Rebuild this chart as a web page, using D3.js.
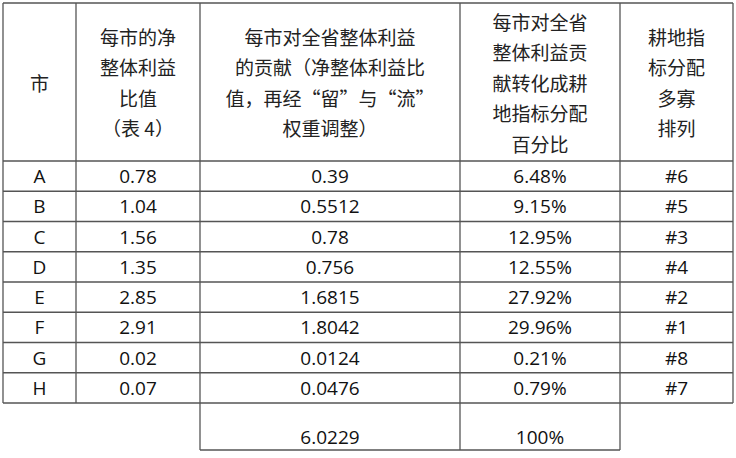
<!DOCTYPE html><html><head><meta charset="utf-8"><script src="https://cdn.jsdelivr.net/npm/d3@7"></script>
<style>body{margin:0;background:#fff}</style></head><body><svg id="c" width="736" height="458"></svg>
<script>
const headers=[["市"],["每市的净","整体利益","比值","（表 4）"],["每市对全省整体利益","的贡献（净整体利益比","值，再经“留”与“流”","权重调整）"],["每市对全省","整体利益贡","献转化成耕","地指标分配","百分比"],["耕地指","标分配","多寡","排列"]];
const cities=["A","B","C","D","E","F","G","H"];
const ratio=["0.78","1.04","1.56","1.35","2.85","2.91","0.02","0.07"];
const contrib=["0.39","0.5512","0.78","0.756","1.6815","1.8042","0.0124","0.0476"];
const pct=["6.48%","9.15%","12.95%","12.55%","27.92%","29.96%","0.21%","0.79%"];
const rank=["#6","#5","#3","#4","#2","#1","#8","#7"];
const totals=["6.0229","100%"];
const svg=d3.select("#c");
const colX=[3,76,200,460,620,733];
const y=d3.scaleLinear().domain([0,8]).range([161,403]);
const tableTop=3,tableBottom=450;
const g=svg.append("g").attr("stroke","#555").attr("stroke-width",1.3);
colX.forEach((x,i)=>g.append("line").attr("x1",x).attr("x2",x).attr("y1",tableTop).attr("y2",(i>=2&&i<=4)?tableBottom:y(8)));
g.append("line").attr("x1",3).attr("x2",733).attr("y1",tableTop).attr("y2",tableTop);
d3.range(9).forEach(i=>g.append("line").attr("x1",3).attr("x2",733).attr("y1",y(i)).attr("y2",y(i)));
g.append("line").attr("x1",200).attr("x2",620).attr("y1",tableBottom).attr("y2",tableBottom);
const font="'Noto Sans CJK SC','Noto Sans',sans-serif";
const numFont="'Liberation Sans Narrow','Open Sans',sans-serif";
headers.forEach((lines,c)=>{
  const cx=(colX[c]+colX[c+1])/2, cy=(tableTop+y(0))/2, lh=30.5;
  lines.forEach((t,k)=>svg.append("text").attr("x",cx).attr("y",cy+(k-(lines.length-1)/2)*lh).attr("text-anchor","middle").attr("dominant-baseline","central").attr("font-family",font).attr("font-size",19).attr("fill","#222").text(t));
});
const cols=[cities,ratio,contrib,pct,rank];
cols.forEach((arr,c)=>arr.forEach((t,i)=>svg.append("text").attr("x",(colX[c]+colX[c+1])/2).attr("y",(y(i)+y(i+1))/2).attr("text-anchor","middle").attr("dominant-baseline","central").attr("font-family",numFont).attr("font-size",19).attr("fill","#111").text(t)));
totals.forEach((t,k)=>svg.append("text").attr("x",(colX[k+2]+colX[k+3])/2).attr("y",(y(8)+tableBottom)/2+10).attr("text-anchor","middle").attr("dominant-baseline","central").attr("font-family",numFont).attr("font-size",19).attr("fill","#111").text(t));
</script></body></html>
